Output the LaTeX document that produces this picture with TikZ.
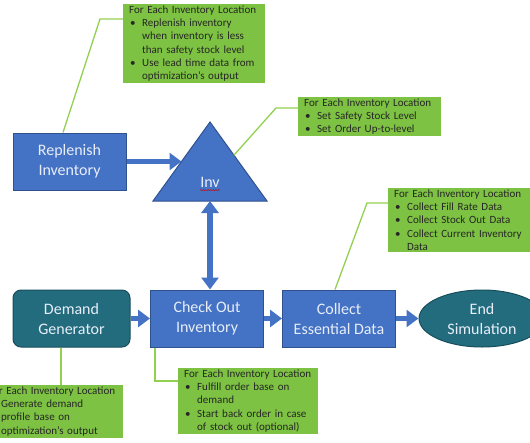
\documentclass[tikz,border=0pt]{standalone}
\usepackage{fontspec}
\setmainfont{Carlito}
\usetikzlibrary{arrows.meta, positioning, shapes.geometric, calc, decorations.pathmorphing}
\definecolor{flow_blue}{RGB}{68, 114, 196}
\definecolor{flow_edge}{RGB}{47, 82, 143}
\definecolor{flow_teal}{RGB}{34, 108, 126}
\definecolor{flow_tealedge}{RGB}{24, 78, 92}
\definecolor{note_green}{RGB}{125, 194, 66}
\definecolor{lead_green}{RGB}{146, 208, 80}
\definecolor{box_text}{RGB}{232, 238, 248}
\newcommand{\bul}{\makebox[13pt][l]{\hspace{1pt}\textbullet}}
\newcommand{\ind}{\hspace*{13pt}}

\begin{document}
\begin{tikzpicture}[x=1pt, y=-1pt,
        blk/.style={rectangle, draw=flow_edge, line width=1pt, fill=flow_blue,
                    minimum width=113pt, minimum height=57pt, inner sep=0pt,
                    align=center, text=box_text, font=\fontsize{16}{20}\selectfont},
        tealblk/.style={blk, draw=flow_tealedge, fill=flow_teal},
        note/.style={rectangle, fill=note_green, anchor=north west, align=left,
                     inner xsep=6pt, inner ysep=1.5pt, text=black!85,
                     font=\fontsize{11}{13.3}\selectfont},
        lead/.style={draw=lead_green, line width=1.3pt},
        flow/.style={draw=flow_blue, line width=5.5pt,
                     -{Triangle[length=12pt, width=17pt]}},
        twoway/.style={draw=flow_blue, line width=5.5pt,
                       {Triangle[length=12pt, width=17pt]}-{Triangle[length=12pt, width=17pt]}},
      ]
        \clip (0,0) rectangle (530,442);

        % Blocks
        \node[blk] (replen) at (69.5,161.5) {Replenish\\Inventory};
        \node[tealblk, rounded corners=8pt, minimum width=117pt] (demand) at (71.5,318.5)
          {Demand\\Generator};
        \node[blk] (checkout) at (207,318.5) {Check Out\\Inventory};
        \node[blk] (collect) at (339,318.5) {Collect\\Essential Data};
        \node[tealblk, ellipse, minimum width=126pt] (endsim) at (482,318.5)
          {End\\Simulation};

        % Inventory triangle
        \coordinate (invtop) at (210,122);
        \coordinate (invleft) at (153,201);
        \coordinate (invright) at (267,201);
        \coordinate (invbase) at ($(invleft)!0.5!(invright)$);
        \filldraw[fill=flow_blue, draw=flow_edge, line width=1pt]
          (invtop) -- (invleft) -- (invright) -- cycle;
        \node[text=box_text, inner sep=0pt, font=\fontsize{16}{20}\selectfont] (inv)
          at (210,182) {Inv};
        \draw[red!80!black, line width=0.5pt, decorate,
              decoration={snake, amplitude=0.6pt, segment length=2.5pt}]
          ($(inv.base west)+(0,3)$) -- ($(inv.base east)+(0,3)$);

        \draw[flow] (replen.east) -- ($(invtop)!0.5!(invleft)$);
        \draw[twoway] (invbase) -- (invbase |- checkout.north);
        \draw[flow] (demand)   -- (checkout);
        \draw[flow] (checkout) -- (collect);
        \draw[flow] (collect)  -- (endsim);

        % Notes
        \node[note, text width=130pt] (nreplen) at (123,4)
          {For Each Inventory Location\\
           \bul Replenish inventory\\
           \ind when inventory is less\\
           \ind than safety stock level\\
           \bul Use lead time data from\\
           \ind optimization’s output};
        \node[note, text width=131pt] (ninv) at (298,97)
          {For Each Inventory Location\\
           \bul Set Safety Stock Level\\
           \bul Set Order Up-to-level};
        \node[note, text width=130pt] (ncollect) at (388,188)
          {For Each Inventory Location\\
           \bul Collect Fill Rate Data\\
           \bul Collect Stock Out Data\\
           \bul Collect Current Inventory\\
           \ind Data};
        \node[note, text width=129pt] (ndemand) at (-18,385)
          {For Each Inventory Location\\
           \bul Generate demand\\
           \ind profile base on\\
           \ind optimization’s output};
        \node[note, text width=128pt] (ncheck) at (178,368)
          {For Each Inventory Location\\
           \bul Fulfill order base on\\
           \ind demand\\
           \bul Start back order in case\\
           \ind of stock out (optional)};

        % Leader lines
        \coordinate (b1) at (100,19);
        \coordinate (b2) at (276,108);
        \coordinate (b3) at (367,203);
        \coordinate (b5) at (155,381);
        \draw[lead] ([xshift=-6.5pt]replen.north) -- (b1) -- (b1 -| nreplen.west);
        \draw[lead] ($(invtop)!0.42!(invright)$) -- (b2) -- (b2 -| ninv.west);
        \draw[lead] ([xshift=-4pt]collect.north) -- (b3) -- (b3 -| ncollect.west);
        \draw[lead] ([xshift=-10.5pt]demand.south) -- ([xshift=-10.5pt]demand.south |- ndemand.north);
        \draw[lead] (checkout.south -| b5) -- (b5) -- (b5 -| ncheck.west);
      \end{tikzpicture}
\end{document}
